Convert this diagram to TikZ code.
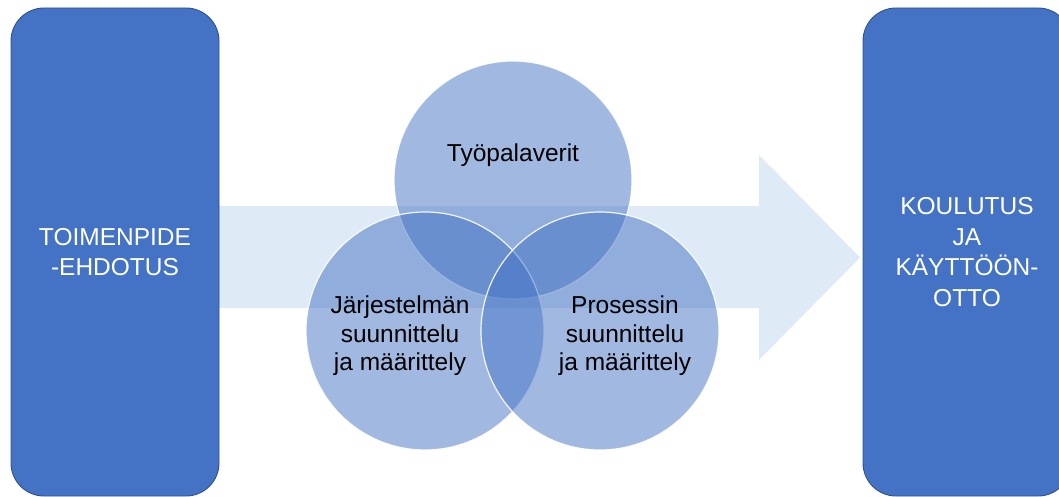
\documentclass[tikz,border=0pt]{standalone}
\usepackage{fontspec}
\setmainfont{Liberation Sans}
\definecolor{boxblue}{HTML}{4472C4}
\definecolor{boxedge}{HTML}{2F528F}
\definecolor{arrowfill}{HTML}{DEEAF6}
\begin{document}
\begin{tikzpicture}[x=1pt,y=-1pt,
  stage/.style={draw=boxedge, line width=0.9pt, fill=boxblue, rounded corners=33pt,
    minimum width=208pt, minimum height=488pt, inner sep=0pt,
    text=white, font=\fontsize{24.5}{30.5}\selectfont, align=center},
  venn/.style={circle, minimum size=238pt, inner sep=0pt, fill=boxblue,
    fill opacity=0.5, draw=white, draw opacity=0.9, line width=1.2pt},
  venntext/.style={text=black, font=\fontsize{24.5}{28.5}\selectfont, align=center}]
\useasboundingbox (0,0) rectangle (1059,497);
\clip (0,0) rectangle (1059,497);

% broad background arrow
\fill[arrowfill] (200,206) -- (759,206) -- (759,155) -- (860,257.5)
  -- (759,360) -- (759,308) -- (200,308) -- cycle;

% start and end stages
\node[stage] (start) at (115,252) {TOIMENPIDE\\-EHDOTUS};
\node[stage] (finish) at (967,252) {KOULUTUS\\JA\\KÄYTTÖÖN-\\OTTO};

% overlapping work areas
\node[venn] (meet) at (513,180) {};
\node[venn] (sys) at (425,331) {};
\node[venn] (proc) at (600,331) {};

\node[venntext] (meetlabel) at (513,155) {Työpalaverit};
\node[venntext] (syslabel) at (400,336) {Järjestelmän\\suunnittelu\\ja määrittely};
\node[venntext] (proclabel) at (625,336) {Prosessin\\suunnittelu\\ja määrittely};
\end{tikzpicture}
\end{document}
